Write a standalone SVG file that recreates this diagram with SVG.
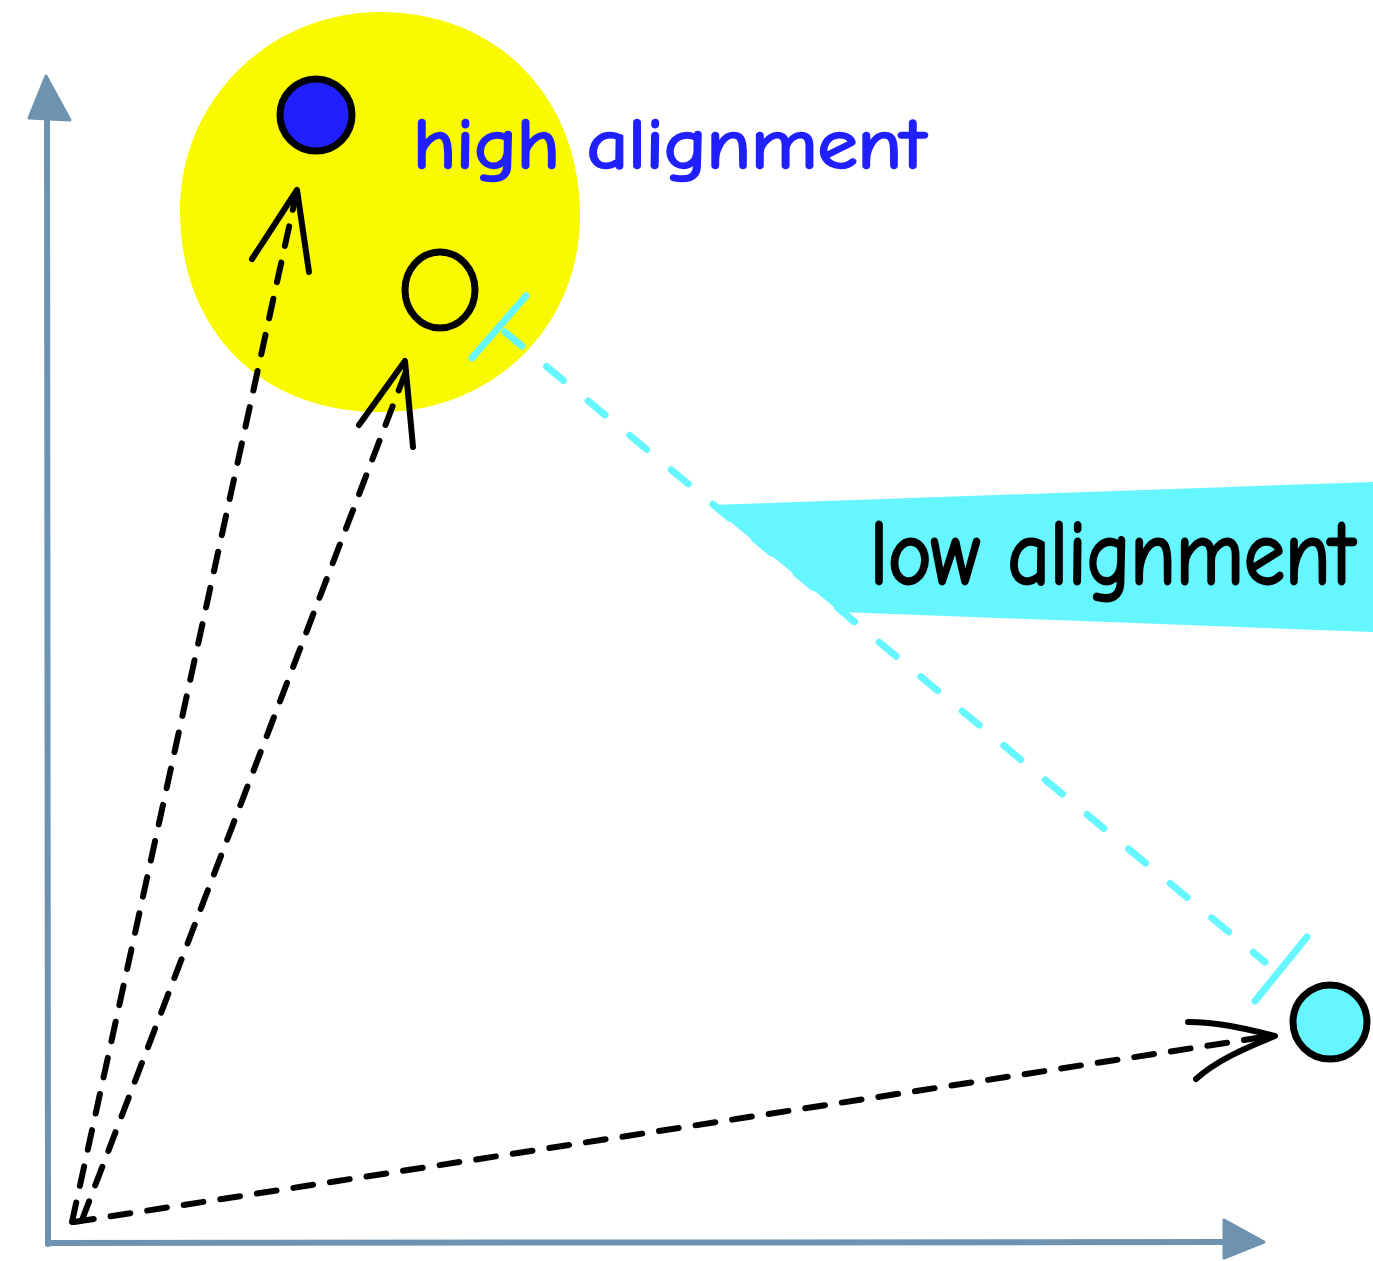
<svg xmlns="http://www.w3.org/2000/svg" width="1373" height="1261" viewBox="0 0 1373 1261">
<style>
.axis{stroke:#6d93b0;stroke-width:6;fill:none;stroke-linecap:round}
.axhead{fill:#6d93b0;stroke:#6d93b0;stroke-width:3;stroke-linejoin:round}
.dash{stroke:#000;stroke-width:6;fill:none;stroke-dasharray:20 17;stroke-linecap:round}
.head{stroke:#000;stroke-width:6;fill:none;stroke-linecap:round;stroke-linejoin:round}
.cy{stroke:#66f6ff;stroke-width:7;fill:none;stroke-linecap:round}
.cydash{stroke:#66f6ff;stroke-width:7;fill:none;stroke-dasharray:22 32;stroke-linecap:round}
.dot{stroke:#000;stroke-width:7}
.lbl{font-family:"Comic Neue","Liberation Sans",sans-serif;stroke-width:2.5;stroke-linejoin:round}
</style>
<rect width="1373" height="1261" fill="#fff"/>
<g id="cluster">
<path d="M380 12 C500 12 580 100 580 215 C580 330 490 412 380 412 C260 412 180 330 180 210 C180 100 270 12 380 12 Z" fill="#f9f900"/>
</g>
<g id="band">
<polygon points="710,505 1373,482 1373,632 840,612 828,602" fill="#66f6ff"/>
</g>
<g id="axes">
<line class="axis" x1="48" y1="1244" x2="47" y2="110"/>
<polygon class="axhead" points="46,76 29,118 70,120"/>
<line class="axis" x1="48" y1="1243" x2="1230" y2="1242"/>
<polygon class="axhead" points="1264,1242 1224,1220 1224,1258"/>
</g>
<g id="connectors">
<line class="dash" x1="72" y1="1222" x2="296" y2="195"/>
<polyline class="head" points="252,259 297,190 309,272"/>
<line class="dash" x1="82" y1="1220" x2="408" y2="366"/>
<polyline class="head" points="359,425 405,361 413,447"/>
<line class="dash" x1="74" y1="1222" x2="1270" y2="1036"/>
<path class="head" d="M1188,1022 C1220,1022 1250,1030 1275,1036 C1240,1050 1215,1062 1196,1079"/>
<line class="cydash" x1="505" y1="332" x2="1265" y2="962"/>
<line class="cy" x1="472" y1="358" x2="526" y2="296"/>
<line class="cy" x1="1255" y1="1001" x2="1307" y2="937"/>
</g>
<g id="node-blue">
<circle class="dot" cx="316" cy="115" r="36" fill="#2020ff"/>
</g>
<g id="node-empty">
<ellipse class="dot" cx="440" cy="290" rx="35" ry="38" fill="none"/>
</g>
<g id="node-cyan">
<circle class="dot" cx="1330" cy="1022" r="37" fill="#66f6ff"/>
</g>
<g id="labels">
<text class="lbl" x="413" y="168" font-size="70" fill="#2020ff" stroke="#2020ff" textLength="512" lengthAdjust="spacingAndGlyphs">high alignment</text>
<text class="lbl" transform="translate(870 584) scale(1 1.15)" x="0" y="0" font-size="80" fill="#000" stroke="#000" textLength="484" lengthAdjust="spacingAndGlyphs">low alignment</text>
</g>
</svg>
